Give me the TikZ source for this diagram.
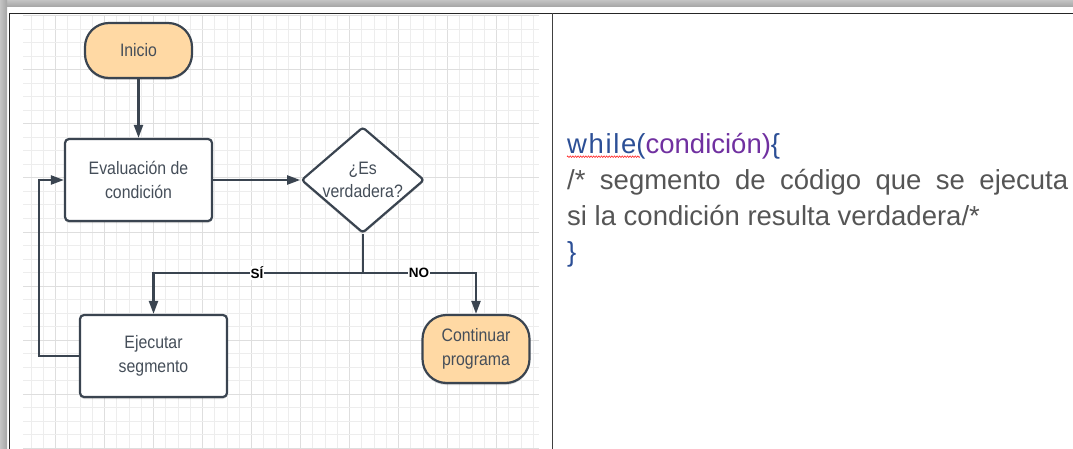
\documentclass[tikz,border=0pt]{standalone}
\usepackage{fontspec}
\setmainfont{Liberation Sans}
\newfontfamily\diagfont{Liberation Sans}[FakeStretch=0.88]
\newfontfamily\codefont{Liberation Sans}
\newfontfamily\whilefont{Liberation Sans}[LetterSpace=6]
\usetikzlibrary{arrows.meta,shapes.geometric,shadows,decorations.pathmorphing}
\definecolor{edge}{HTML}{3A4450}
\definecolor{txt}{HTML}{454E59}
\definecolor{peach}{HTML}{FFD9A4}
\definecolor{gridminor}{HTML}{EDEDED}
\definecolor{gridmajor}{HTML}{DEDEDE}
\definecolor{cblue}{HTML}{2C4F96}
\definecolor{cpurple}{HTML}{7030A0}
\definecolor{cgrey}{HTML}{555555}
\definecolor{bandlight}{HTML}{C4C4C4}
\definecolor{banddark}{HTML}{A4A4A4}
\tikzset{
  base/.style={draw=edge, line width=2.2pt, text=txt, align=center, inner sep=0pt,
    font=\diagfont\fontsize{18}{24}\selectfont,
    drop shadow={shadow xshift=0pt, shadow yshift=-2pt, opacity=0.15, fill=black}},
  procbox/.style={base, fill=white, rounded corners=4pt, minimum width=147pt, minimum height=82pt},
  termbox/.style={base, fill=peach, rounded corners=24pt},
  decbox/.style={base, fill=white, diamond, aspect=1.16, minimum width=123pt, minimum height=106pt, rounded corners=3pt},
  conn/.style={draw=edge, line width=2.2pt},
  arr/.style={conn, -{Triangle[length=13pt,width=9pt]}},
  lbl/.style={fill=white, text=black, inner sep=1pt, font=\bfseries\fontsize{13.5}{14}\selectfont},
  codeline/.style={anchor=base west, inner sep=0pt, text=cgrey, font=\codefont\fontsize{27.5}{33}\selectfont},
  frameline/.style={draw=black!85, line width=1.2pt}
}
\begin{document}
\begin{tikzpicture}[x=1pt,y=-1pt]
\useasboundingbox (0,0) rectangle (1073,449);
% shadow bands of the frame
\shade[top color=bandlight, bottom color=banddark] (0,0) rectangle (1073,7);
\shade[left color=bandlight, right color=banddark] (0,0) rectangle (7,449);
% grid
\foreach \k in {0,...,41}{
  \pgfmathtruncatemacro{\m}{mod(\k+2,4)}
  \ifnum\m=0
    \draw[gridmajor, line width=1pt] ({31.2+12.25*\k},15) -- ({31.2+12.25*\k},449);
  \else
    \draw[gridminor, line width=1pt] ({31.2+12.25*\k},15) -- ({31.2+12.25*\k},449);
  \fi
}
\foreach \k in {0,...,32}{
  \pgfmathtruncatemacro{\m}{mod(\k,4)}
  \ifnum\m=0
    \draw[gridmajor, line width=1pt] (23,{16+13.5*\k}) -- (539,{16+13.5*\k});
  \else
    \draw[gridminor, line width=1pt] (23,{16+13.5*\k}) -- (539,{16+13.5*\k});
  \fi
}
% frame lines
\draw[frameline] (9.5,449) -- (9.5,13.3) -- (1073,13.3);
\draw[frameline, draw=black!75, line width=1pt] (552.5,13.3) -- (552.5,449);

% nodes
\node[termbox, minimum width=107pt, minimum height=55pt] (ini) at (138.5,50.5) {Inicio};
\node[procbox] (eval) at (138.5,180) {Evaluación de\\condición};
\node[decbox, font=\diagfont\fontsize{18}{23}\selectfont] (dec) at (362.8,180) {¿Es\\verdadera?};
\node[procbox] (ejec) at (153.5,356) {Ejecutar\\segmento};
\node[termbox, minimum width=107pt, minimum height=68pt] (cont) at (476,349) {Continuar\\programa};
\coordinate (j) at (362.8,273);

% connectors
\draw[arr] (ini) -- (eval);
\draw[arr] (eval) -- (dec);
\draw[conn] (dec.south) -- (j);
\draw[arr] (j) -| node[lbl, pos=0.253] (si) {SÍ} (ejec.north);
\draw[arr] (j) -| node[lbl, pos=0.248] (no) {NO} (cont.north);
\draw[arr] (ejec.west) -- ++(-40,0) |- (eval.west);

% code text
\node[codeline] (l1) at (567,153.5) {\textcolor{cblue}{{\whilefont while}(}\textcolor{cpurple}{condición)}\textcolor{cblue}{\{}};
\node[codeline] (l2) at (567,189.5) {\makebox[501pt][s]{/* segmento de código que se ejecuta}};
\node[codeline] (l3) at (567,225.5) {si la condición resulta verdadera/*};
\node[codeline] (l4) at (567,261.5) {\textcolor{cblue}{\}}};
\draw[red!85, line width=0.6pt, decorate, decoration={zigzag, amplitude=0.8pt, segment length=2.6pt}]
  ([yshift=-3.2pt]l1.base west) -- ++(73,0);
\end{tikzpicture}
\end{document}
